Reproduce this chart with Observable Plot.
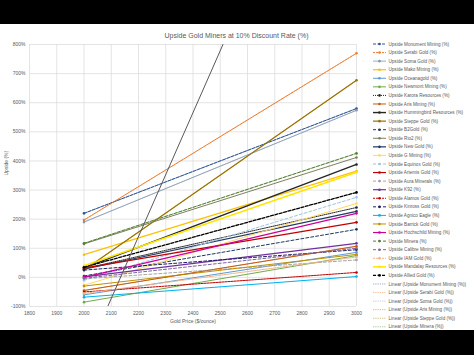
<!DOCTYPE html>
<html><head><meta charset="utf-8">
<script src="https://cdn.jsdelivr.net/npm/d3@7"></script>
<script src="https://cdn.jsdelivr.net/npm/@observablehq/plot@0.6"></script>
<style>
html,body{margin:0;padding:0;background:#000;}
#root{position:relative;width:474px;height:355px;background:#000;overflow:hidden;}
#panel{position:absolute;left:0;top:24px;width:474px;height:306px;background:#fff;}
#panel svg{position:absolute;left:0;top:0;}
</style></head>
<body><div id="root"><div id="panel"></div></div>
<script>
// ---- data ----
const series = ["Monument Mining","Serabi Gold","Soma Gold","Mako Mining","Oceanagold","Newmont Mining","Karora Resources","Aris Mining","Hummingbird Resources","Steppe Gold","B2Gold","Rio2","New Gold","G Mining","Equinox Gold","Artemis Gold","Aura Minerals","K92","Alamos Gold","Kinross Gold","Agnico Eagle","Barrick Gold","Hochschild Mining","Minera","Calibre Mining","IAM Gold","Mandalay Resources","Allied Gold"];
const goldPrices = [2000, 3000];
const upside2000 = [220,197,190,78,-60,-85,30,-45,33,25,5,115,28,-27,-10,32,-5,2,-50,25,-68,-30,0,117,-3,-55,40,35];
const upside3000 = [580,770,574,365,86,75,240,107,388,677,165,412,227,254,275,189,60,117,17,95,3,79,220,426,100,70,361,292];
const trendSeries = ["Monument Mining","Serabi Gold","Soma Gold","Aris Mining","Steppe Gold","Minera"];
const steepPrice = [2087, 2510];
const steepUpside = [-100, 800];
const xTicks = d3.range(1800, 3001, 100);
const yTicks = d3.range(-100, 801, 100);

// ---- styles ----
const colors = ["#2F5597","#ED7D31","#8497B0","#FFC000","#5B9BD5","#70AD47","#262626","#C55A11","#262626","#997300","#203864","#7F7F5F","#203864","#FFD966","#9DC3E6","#C00000","#A5A5A5","#7030A0","#C00000","#1F1F5F","#00B0F0","#BF9000","#CC0099","#548235","#8064A2","#F4B183","#FFE600","#000000"];
const dashes = ["3,1.5","2,1",null,null,null,null,"1,1",null,null,null,"3,2",null,null,null,"3,2",null,"3,2",null,"2,1","3,2",null,null,null,"3,2","3,2","2,1",null,"3,1.5"];
const widths = [1,1,0.8,1.2,1,1,1,1,1.4,1.2,1,1,1.2,1,1,1.2,1,1.2,1,1,1,1,1.2,1,1,1,1.5,1.3];

const rows = [];
series.forEach((s,i)=>{ rows.push({name:s, price:goldPrices[0], upside:upside2000[i]}); rows.push({name:s, price:goldPrices[1], upside:upside3000[i]}); });
const steep = steepPrice.map((p,i)=>({price:p, upside:steepUpside[i]}));

const marks = [
  Plot.gridX(xTicks, {stroke:"#D9D9D9", strokeOpacity:1, strokeWidth:0.7}),
  Plot.gridY(yTicks, {stroke:"#D9D9D9", strokeOpacity:1, strokeWidth:0.7}),
  Plot.axisX({ticks:xTicks, tickSize:0, tickPadding:4.5, tickFormat:d=>String(d), label:null}),
  Plot.axisY({ticks:yTicks, tickSize:0, tickPadding:4, tickFormat:d=>d+"%", label:null}),
];
series.forEach((s,i)=>{
  const data = rows.filter(r=>r.name===s);
  marks.push(Plot.line(data, {x:"price", y:"upside", stroke:colors[i], strokeWidth:widths[i], strokeDasharray:dashes[i]||undefined}));
});
trendSeries.forEach(s=>{
  const i = series.indexOf(s);
  const data = rows.filter(r=>r.name===s);
  marks.push(Plot.line(data, {x:"price", y:"upside", stroke:colors[i], strokeWidth:0.6, strokeDasharray:"0.8,1", strokeOpacity:0.8}));
});
marks.push(Plot.dot(rows, {x:"price", y:"upside", fill:d=>colors[series.indexOf(d.name)], r:1.3, stroke:"none"}));
marks.push(Plot.line(steep, {x:"price", y:"upside", stroke:"#595959", strokeWidth:1, clip:true}));
marks.push(Plot.text(["Upside Gold Miners at 10% Discount Rate (%)"], {frameAnchor:"top", dy:-11, dx:43.5, fontSize:7, fill:"#595959"}));
marks.push(Plot.text(["Gold Price ($/ounce)"], {frameAnchor:"bottom", dy:16, fontSize:5, fill:"#595959"}));
marks.push(Plot.text(["Upside (%)"], {frameAnchor:"left", dx:-23, rotate:-90, fontSize:5, fill:"#595959"}));

const chart = Plot.plot({
  width:474, height:306,
  marginLeft:29, marginRight:118, marginTop:20, marginBottom:24,
  x:{domain:[1800,3000]},
  y:{domain:[-100,800]},
  style:{fontFamily:"'Liberation Sans', sans-serif", fontSize:"5px", color:"#595959", background:"transparent"},
  marks
});
const panel = document.getElementById("panel");
panel.appendChild(chart);

// ---- legend ----
const legendItems = series.map((s,i)=>({label:"Upside "+s+" (%)", color:colors[i], dash:dashes[i], w:widths[i], marker:true}))
  .concat(trendSeries.map(s=>{const i=series.indexOf(s); return {label:"Linear (Upside "+s+" (%))", color:colors[i], dash:"0.8,1", w:0.6, marker:false};}));
const lg = d3.select(panel).append("svg").attr("width",474).attr("height",306)
  .style("font-family","'Liberation Sans', sans-serif");
const g = lg.selectAll("g").data(legendItems).join("g")
  .attr("transform",(d,i)=>`translate(373,${20 + i*8.57})`);
g.append("line").attr("x1",0).attr("x2",13).attr("y1",0).attr("y2",0)
  .attr("stroke",d=>d.color).attr("stroke-width",d=>d.w).attr("stroke-dasharray",d=>d.dash||null);
g.filter(d=>d.marker).append("circle").attr("cx",6.5).attr("cy",0).attr("r",1.3).attr("fill",d=>d.color);
g.append("text").attr("x",15.5).attr("y",0).attr("dy","0.35em").attr("font-size",4.6).attr("fill","#595959").text(d=>d.label);
</script></body></html>
